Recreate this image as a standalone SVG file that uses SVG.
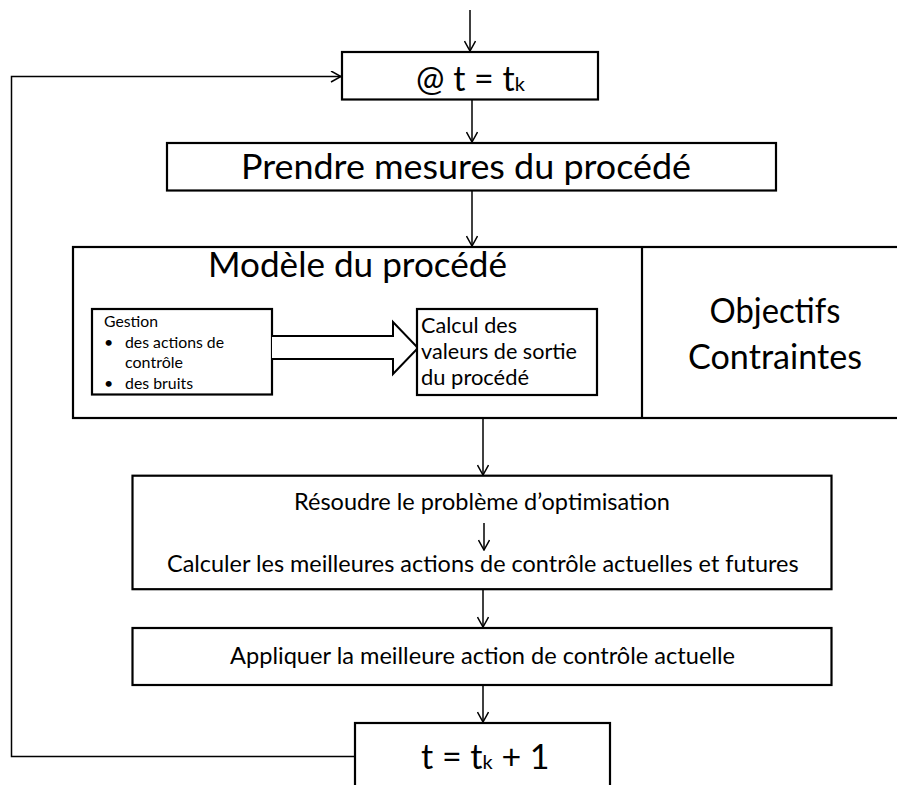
<svg xmlns="http://www.w3.org/2000/svg" width="897" height="785" viewBox="0 0 897 785">
  <style>
    .box { fill: #fff; stroke: #000; stroke-width: 2.2; }
    .wire { fill: none; stroke: #000; stroke-width: 1.5; }
    .t { font-family: Lato, "Liberation Sans", sans-serif; fill: #000; }
    .big { font-size: 34px; }
    .mid { font-size: 22.5px; }
    .sm { font-size: 20.5px; }
    .xs { font-size: 16px; }
    .c { text-anchor: middle; }
  </style>
  <defs>
    <marker id="head" viewBox="0 0 12 12" refX="11" refY="6" markerWidth="12" markerHeight="12" markerUnits="userSpaceOnUse" orient="auto">
      <path d="M1,0.5 L11,6 L1,11.5" fill="none" stroke="#000" stroke-width="1.5"/>
    </marker>
  </defs>

  <rect width="897" height="785" fill="#fff"/>

  <!-- connectors -->
  <g id="connectors">
    <line class="wire" x1="470" y1="10" x2="470" y2="51" marker-end="url(#head)"/>
    <line class="wire" x1="472" y1="100" x2="472" y2="142" marker-end="url(#head)"/>
    <line class="wire" x1="472" y1="191" x2="472" y2="246" marker-end="url(#head)"/>
    <line class="wire" x1="483" y1="418" x2="483" y2="475" marker-end="url(#head)"/>
    <line class="wire" x1="483" y1="589" x2="483" y2="627" marker-end="url(#head)"/>
    <line class="wire" x1="483" y1="685" x2="483" y2="722" marker-end="url(#head)"/>
    <polyline class="wire" points="355,756.5 11.5,756.5 11.5,76.5 341,76.5" marker-end="url(#head)"/>
  </g>

  <!-- start of step k -->
  <g id="node-tk">
    <rect class="box" x="342" y="52" width="256" height="47.5"/>
    <text class="t big" x="416" y="90.5">@ t = t<tspan font-size="20px">k</tspan></text>
  </g>

  <!-- measurements -->
  <g id="node-mesures">
    <rect class="box" x="167" y="143" width="609" height="47.5"/>
    <text class="t big" x="241" y="178.5" textLength="450" lengthAdjust="spacingAndGlyphs">Prendre mesures du procédé</text>
  </g>

  <!-- process model with objectives / constraints -->
  <g id="node-modele">
    <rect class="box" x="73" y="247" width="840" height="171"/>
    <line x1="642" y1="247" x2="642" y2="418" stroke="#000" stroke-width="2.2"/>
    <text class="t big" x="208" y="277" textLength="299" lengthAdjust="spacingAndGlyphs">Modèle du procédé</text>
    <text class="t big c" x="775" y="323" textLength="131" lengthAdjust="spacingAndGlyphs">Objectifs</text>
    <text class="t big c" x="775" y="369" textLength="174" lengthAdjust="spacingAndGlyphs">Contraintes</text>
  </g>

  <g id="node-gestion">
    <rect class="box" x="92" y="309" width="180" height="85.5"/>
    <text class="t xs" x="104" y="327" textLength="54" lengthAdjust="spacingAndGlyphs">Gestion</text>
    <text class="t xs" x="104" y="347.7">•</text>
    <text class="t xs" x="125" y="347.7" textLength="99" lengthAdjust="spacingAndGlyphs">des actions de</text>
    <text class="t xs" x="125" y="368" textLength="58" lengthAdjust="spacingAndGlyphs">contrôle</text>
    <text class="t xs" x="104" y="388.5">•</text>
    <text class="t xs" x="125" y="388.5" textLength="68" lengthAdjust="spacingAndGlyphs">des bruits</text>
  </g>

  <!-- block arrow between the two inner boxes -->
  <g id="block-arrow">
    <path d="M272,336 L393,336 L393,322 L418,348 L393,374 L393,359 L272,359" fill="#fff" stroke="#000" stroke-width="2"/>
  </g>

  <g id="node-calcul">
    <rect class="box" x="417" y="309" width="180" height="86"/>
    <text class="t sm" x="421" y="333" textLength="96" lengthAdjust="spacingAndGlyphs">Calcul des</text>
    <text class="t sm" x="421" y="359" textLength="156" lengthAdjust="spacingAndGlyphs">valeurs de sortie</text>
    <text class="t sm" x="421" y="385" textLength="108" lengthAdjust="spacingAndGlyphs">du procédé</text>
  </g>

  <!-- optimisation -->
  <g id="node-optimisation">
    <rect class="box" x="132.5" y="475.7" width="699" height="113.5"/>
    <text class="t mid" x="294" y="510" textLength="376" lengthAdjust="spacingAndGlyphs">Résoudre le problème d’optimisation</text>
    <line class="wire" x1="484" y1="523" x2="484" y2="550" marker-end="url(#head)"/>
    <text class="t mid" x="167" y="571.5" textLength="631.6" lengthAdjust="spacingAndGlyphs">Calculer les meilleures actions de contrôle actuelles et futures</text>
  </g>

  <g id="node-appliquer">
    <rect class="box" x="132.5" y="628" width="699" height="57"/>
    <text class="t mid" x="230" y="664" textLength="505" lengthAdjust="spacingAndGlyphs">Appliquer la meilleure action de contrôle actuelle</text>
  </g>

  <!-- next step -->
  <g id="node-next">
    <rect class="box" x="355" y="723" width="255" height="80"/>
    <text class="t big" x="421" y="769">t = t<tspan font-size="20px">k</tspan> + 1</text>
  </g>
</svg>
